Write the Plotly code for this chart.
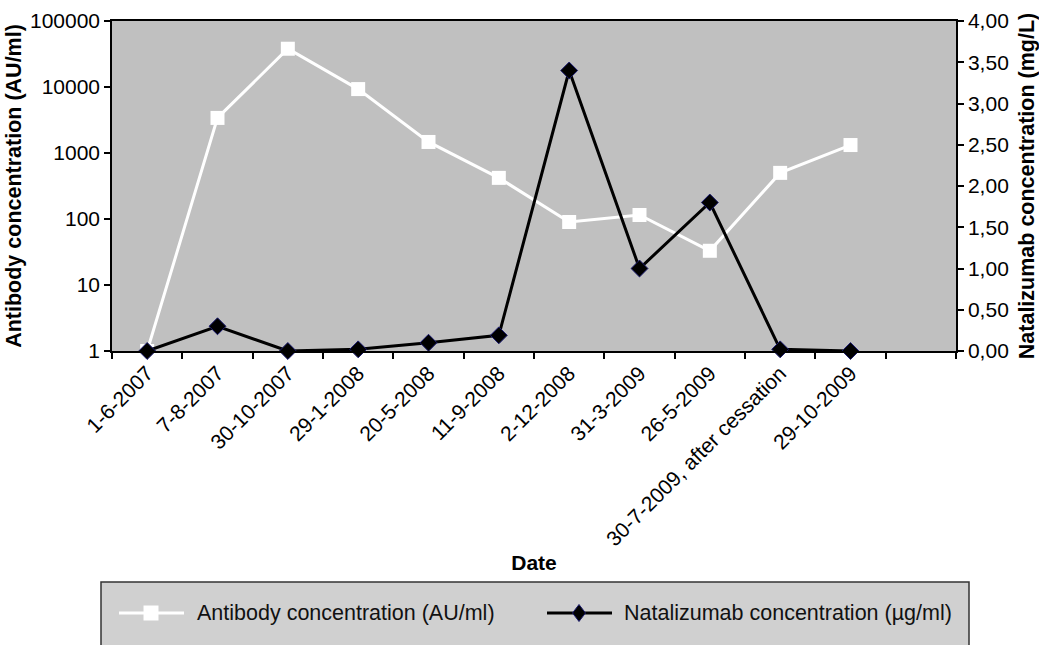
import plotly.graph_objects as go

# Sampling dates (last slot on the category axis is left empty)
dates = ["1-6-2007", "7-8-2007", "30-10-2007", "29-1-2008", "20-5-2008",
         "11-9-2008", "2-12-2008", "31-3-2009", "26-5-2009",
         "30-7-2009, after cessation", "29-10-2009"]
n_slots = 12

antibody = [1, 3400, 38000, 9300, 1470, 420, 90, 115, 33, 500, 1320]          # AU/ml
natalizumab = [0.0, 0.30, 0.0, 0.02, 0.10, 0.19, 3.40, 1.00, 1.80, 0.02, 0.0]  # mg/L

left_ticks = [1, 10, 100, 1000, 10000, 100000]
right_ticks = [0, 0.5, 1.0, 1.5, 2.0, 2.5, 3.0, 3.5, 4.0]

legend_names = ["Antibody concentration (AU/ml)", "Natalizumab concentration (\u00b5g/ml)"]

FONT = "Arial, Liberation Sans, sans-serif"
W, H = 1039, 645
ML, MR, MT, MB = 112, 83, 21, 294
PW, PH = W - ML - MR, H - MT - MB

x_idx = list(range(len(dates)))

fig = go.Figure()

fig.add_trace(go.Scatter(
    x=x_idx, y=antibody, mode="lines+markers", name=legend_names[0],
    line=dict(color="white", width=3),
    marker=dict(symbol="square", size=14, color="white"),
    yaxis="y", showlegend=False, cliponaxis=False,
))
fig.add_trace(go.Scatter(
    x=x_idx, y=natalizumab, mode="lines+markers", name=legend_names[1],
    line=dict(color="black", width=3),
    marker=dict(symbol="diamond", size=13, color="black",
                line=dict(color="#1c1c70", width=1)),
    yaxis="y2", showlegend=False, cliponaxis=False,
))


def px_x(px):
    return (px - ML) / PW


def px_y(py):
    return (H - MB - py) / PH


shapes = []
annotations = []

# Legend box
shapes.append(dict(type="rect", xref="paper", yref="paper",
                   x0=px_x(101), x1=px_x(969), y0=px_y(660), y1=px_y(582),
                   fillcolor="#d0d0d0", line=dict(color="#333333", width=1.5),
                   layer="below"))

# Legend entry 1: white line with square
ly = 613
shapes.append(dict(type="line", xref="paper", yref="paper",
                   x0=px_x(119), x1=px_x(184), y0=px_y(ly), y1=px_y(ly),
                   line=dict(color="white", width=3)))
shapes.append(dict(type="rect", xref="paper", yref="paper",
                   x0=px_x(151 - 7.5), x1=px_x(151 + 7.5),
                   y0=px_y(ly + 7.5), y1=px_y(ly - 7.5),
                   fillcolor="white", line=dict(width=0)))
annotations.append(dict(xref="paper", yref="paper", x=px_x(195), y=px_y(ly),
                        xanchor="left", yanchor="middle", showarrow=False,
                        text=legend_names[0],
                        font=dict(family=FONT, size=21.5, color="#111111")))

# Legend entry 2: black line with diamond
shapes.append(dict(type="line", xref="paper", yref="paper",
                   x0=px_x(547), x1=px_x(612), y0=px_y(ly), y1=px_y(ly),
                   line=dict(color="black", width=3)))
dx, dy = 6.5, 8.5
cx = 579
shapes.append(dict(type="path", xref="paper", yref="paper",
                   path=(f"M {px_x(cx)} {px_y(ly - dy)} L {px_x(cx + dx)} {px_y(ly)} "
                         f"L {px_x(cx)} {px_y(ly + dy)} L {px_x(cx - dx)} {px_y(ly)} Z"),
                   fillcolor="black", line=dict(color="#1c1c70", width=1)))
annotations.append(dict(xref="paper", yref="paper", x=px_x(622), y=px_y(ly),
                        xanchor="left", yanchor="middle", showarrow=False,
                        text=legend_names[1],
                        font=dict(family=FONT, size=21.5, color="#111111")))

fig.update_layout(
    width=W, height=H,
    margin=dict(l=ML, r=MR, t=MT, b=MB, pad=0, autoexpand=False),
    paper_bgcolor="white",
    plot_bgcolor="#c0c0c0",
    font=dict(family=FONT, size=21, color="black"),
    xaxis=dict(
        range=[-0.5, n_slots - 0.5], automargin=False,
        tickmode="array", tickvals=x_idx, ticktext=dates,
        tickangle=-45, ticks="",
        tickfont=dict(size=21),
        minor=dict(tickmode="linear", tick0=-0.5, dtick=1, ticks="outside",
                   ticklen=6, tickwidth=1.5, tickcolor="black", showgrid=False),
        showline=True, linecolor="black", linewidth=1.5, mirror=True,
        showgrid=False, zeroline=False,
        title=dict(text="<b>Date</b>", standoff=6,
                   font=dict(family=FONT, size=21)),
    ),
    yaxis=dict(
        type="log", range=[0, 5], automargin=False,
        tickmode="array", tickvals=left_ticks, ticktext=[str(v) for v in left_ticks],
        ticks="outside", ticklen=6, tickwidth=1.5, tickcolor="black",
        tickfont=dict(size=21),
        showline=True, linecolor="black", linewidth=1.5,
        showgrid=False, zeroline=False,
        title=dict(text="<b>Antibody concentration (AU/ml)</b>", standoff=2,
                   font=dict(family=FONT, size=21.5)),
    ),
    yaxis2=dict(
        overlaying="y", side="right", range=[0, 4], automargin=False,
        tickmode="array", tickvals=right_ticks,
        ticktext=[f"{v:.2f}".replace(".", ",") for v in right_ticks],
        ticks="outside", ticklen=6, tickwidth=1.5, tickcolor="black",
        tickfont=dict(size=21),
        showline=True, linecolor="black", linewidth=1.5,
        showgrid=False, zeroline=False,
        title=dict(text="<b>Natalizumab concentration (mg/L)</b>", standoff=11,
                   font=dict(family=FONT, size=21.5)),
    ),
    shapes=shapes,
    annotations=annotations,
)

fig.write_html("out.html")
